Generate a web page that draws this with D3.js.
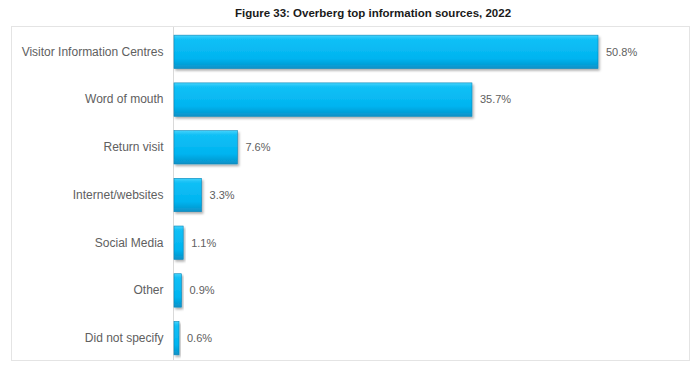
<!doctype html>
<html>
<head>
<title>Overberg top information sources</title>
<script src="https://d3js.org/d3.v7.min.js"></script>
<style>
  body { margin: 0; background: #fff; }
  svg { display: block; font-family: "Liberation Sans", Arial, sans-serif; }
</style>
</head>
<body>
<svg id="chart" width="697" height="366"></svg>
<script>
  var categories = ["Visitor Information Centres", "Word of mouth", "Return visit",
                    "Internet/websites", "Social Media", "Other", "Did not specify"];
  var values = [50.8, 35.7, 7.6, 3.3, 1.1, 0.9, 0.6];
  var valueLabels = ["50.8%", "35.7%", "7.6%", "3.3%", "1.1%", "0.9%", "0.6%"];

  var data = categories.map((c, i) => ({ cat: c, val: values[i], label: valueLabels[i] }));

  var svg = d3.select('#chart');

  var defs = svg.append('defs');
  var grad = defs.append('linearGradient')
    .attr('id', 'barGrad')
    .attr('x1', 0).attr('y1', 0).attr('x2', 0).attr('y2', 1);
  grad.append('stop').attr('offset', '0%').attr('stop-color', '#45d3fc');
  grad.append('stop').attr('offset', '12%').attr('stop-color', '#12c0f6');
  grad.append('stop').attr('offset', '70%').attr('stop-color', '#00b4f0');
  grad.append('stop').attr('offset', '100%').attr('stop-color', '#0a92c8');

  var shadow = defs.append('filter').attr('id', 'shadow')
    .attr('x', '-10%').attr('y', '-10%').attr('width', '130%').attr('height', '140%');
  shadow.append('feDropShadow')
    .attr('dx', 1.5).attr('dy', 2).attr('stdDeviation', 1.2)
    .attr('flood-color', '#000').attr('flood-opacity', 0.3);

  // outer frame
  svg.append('rect')
    .attr('x', 11.5).attr('y', 26.5)
    .attr('width', 678).attr('height', 334)
    .style('fill', 'none')
    .style('stroke', '#e4e4e4')
    .style('stroke-width', 1);

  svg.append('text')
    .attr('x', 373)
    .attr('y', 17)
    .attr('text-anchor', 'middle')
    .style('font-size', '11.5px')
    .style('font-weight', 'bold')
    .style('fill', '#1a1a1a')
    .text('Figure 33: Overberg top information sources, 2022');

  var xScale = d3.scaleLinear()
    .domain([0, 50.8])
    .range([174, 598]);

  var yScale = d3.scaleBand()
    .domain(categories)
    .range([28, 362])
    .paddingInner(0.3)
    .paddingOuter(0.15);

  var yAxis = d3.axisLeft()
    .scale(yScale)
    .tickSize(0)
    .tickPadding(10);

  var yAxisG = svg.append('g')
    .attr('transform', 'translate(173.5,0)')
    .call(yAxis);
  yAxisG.select('.domain')
    .attr('d', 'M0,' + 27 + 'V' + 360)
    .style('stroke', '#d9d9d9');
  yAxisG.selectAll('text')
    .style('font-family', '"Liberation Sans", Arial, sans-serif')
    .style('font-size', '12px')
    .style('fill', '#606060');

  svg.selectAll('rect.bar')
    .data(data)
    .enter()
    .append('rect')
    .attr('class', 'bar')
    .attr('x', xScale(0))
    .attr('y', d => yScale(d.cat))
    .attr('width', d => xScale(d.val) - xScale(0))
    .attr('height', yScale.bandwidth())
    .style('fill', 'url(#barGrad)')
    .style('stroke', '#0a86b8')
    .style('stroke-width', 0.6)
    .attr('filter', 'url(#shadow)');

  svg.selectAll('text.val')
    .data(data)
    .enter()
    .append('text')
    .attr('class', 'val')
    .attr('x', d => xScale(d.val) + 8)
    .attr('y', d => yScale(d.cat) + yScale.bandwidth() / 2)
    .attr('dy', '0.35em')
    .style('font-size', '11px')
    .style('fill', '#606060')
    .text(d => d.label);
</script>
</body>
</html>
